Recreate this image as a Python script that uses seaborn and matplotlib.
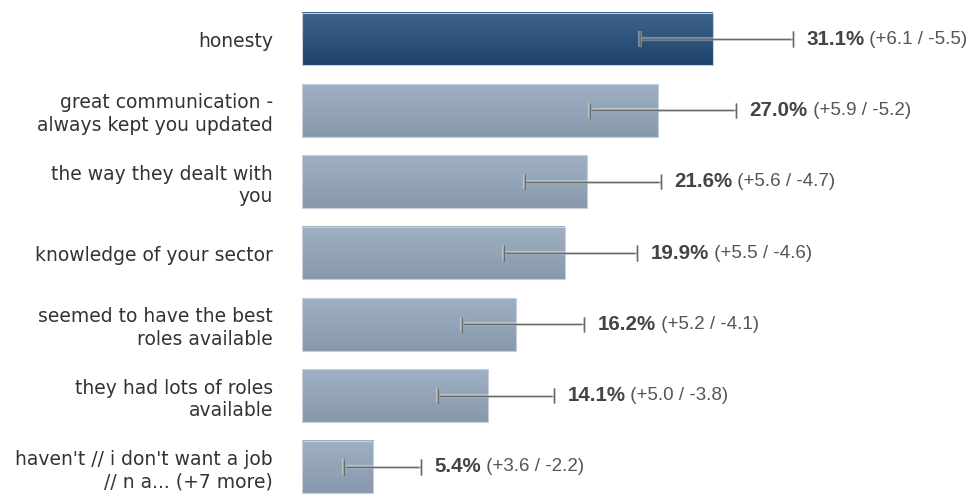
import numpy as np
import seaborn as sns
import matplotlib.pyplot as plt
import matplotlib.colors as mcolors
import matplotlib.patheffects as pe

labels = ["honesty",
          "great communication -\nalways kept you updated",
          "the way they dealt with\nyou",
          "knowledge of your sector",
          "seemed to have the best\nroles available",
          "they had lots of roles\navailable",
          "haven't // i don't want a job\n// n a... (+7 more)"]
values = [31.1, 27.0, 21.6, 19.9, 16.2, 14.1, 5.4]
err_plus = [6.1, 5.9, 5.6, 5.5, 5.2, 5.0, 3.6]
err_minus = [5.5, 5.2, 4.7, 4.6, 4.1, 3.8, 2.2]

sns.set_style("white")
plt.rcParams['font.family'] = ['Liberation Sans', 'DejaVu Sans']

fig = plt.figure(figsize=(9.75, 4.97), dpi=100)
ax = fig.add_axes([302 / 975, 0, 673 / 975, 1])

palette = ["#2c5480"] + ["#93a5b9"] * (len(labels) - 1)
sns.barplot(x=values, y=labels, hue=labels, palette=palette, legend=False,
            width=0.74, orient="h", ax=ax)

# gradient fill for each bar
grads = [("#3d6488", "#1e446e")] + [("#9fb0c3", "#8899ae")] * (len(labels) - 1)
for p, (c_top, c_bot) in zip(ax.patches, grads):
    x0, y0, w, h = p.get_x(), p.get_y(), p.get_width(), p.get_height()
    top = np.array(mcolors.to_rgb(c_top))
    bot = np.array(mcolors.to_rgb(c_bot))
    t = np.linspace(0, 1, 64)[:, None, None]
    img = top * (1 - t) + bot * t
    ax.imshow(img, extent=(x0, x0 + w, y0 + h, y0), origin="upper",
              aspect="auto", zorder=2, interpolation="bilinear")
    p.set_facecolor("none")
    p.set_edgecolor("#c3cfdb")
    p.set_linewidth(0.8)
    p.set_zorder(3)

ypos = np.arange(len(labels))
eb = ax.errorbar(values, ypos, xerr=[err_minus, err_plus], fmt="none",
                 ecolor="#6a6a6a", elinewidth=1.0, capsize=5.5, capthick=1.0,
                 zorder=4)
for art in list(eb.lines[1]) + list(eb.lines[2]):
    art.set_path_effects([pe.withStroke(linewidth=3, foreground="white", alpha=0.35),
                          pe.Normal()])

for y, v, ep, em in zip(ypos, values, err_plus, err_minus):
    t1 = ax.annotate(f"{v:.1f}%", xy=(v + ep, y), xytext=(9.5, 0),
                     textcoords="offset points", va="center", ha="left",
                     fontsize=14.8, fontweight="bold", color="#444444")
    ax.annotate(f" (+{ep:.1f} / -{em:.1f})", xy=(1, 0.5), xycoords=t1,
                va="center", ha="left", fontsize=13.5, color="#555555")

ax.set_xlim(0, 673 / 13.2)
ax.set_ylim(6 + 30 / 71.33, -39 / 71.33)
ax.set_xlabel("")
ax.set_ylabel("")
ax.set_xticks([])
ax.tick_params(axis="y", length=0, pad=21, labelcolor="#333333")
for lbl in ax.get_yticklabels():
    lbl.set_fontfamily(["DejaVu Sans"])
    lbl.set_fontsize(13.5)
    lbl.set_linespacing(1.22)
sns.despine(ax=ax, left=True, bottom=True)

fig.savefig("out.png", dpi=100)
